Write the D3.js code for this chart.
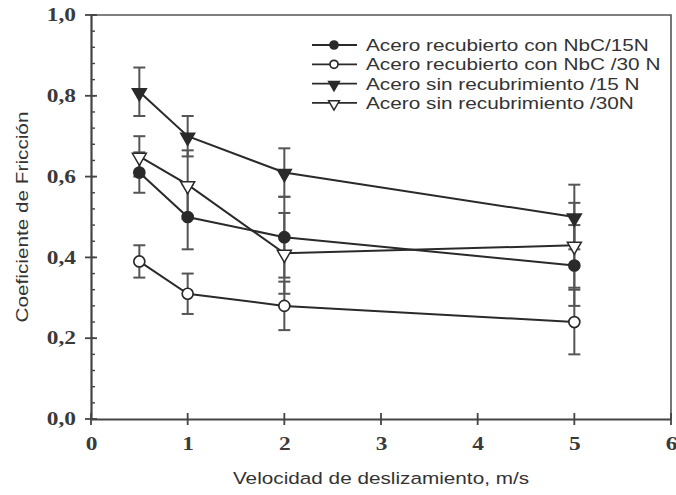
<!DOCTYPE html>
<html>
<head>
<meta charset="utf-8">
<script src="https://cdn.jsdelivr.net/npm/d3@7"></script>
<style>
  html, body { margin: 0; padding: 0; background: #fff; }
  svg { display: block; }
</style>
</head>
<body>
<svg id="chart" width="676" height="495"></svg>
<script>
// Sliding speed (m/s) where each test was run
const velocities = [0.5, 1, 2, 5];

// Mean friction coefficient per series
const nbc15 = [0.61, 0.50, 0.45, 0.38];
const nbc30 = [0.39, 0.31, 0.28, 0.24];
const bare15 = [0.81, 0.70, 0.61, 0.50];
const bare30 = [0.65, 0.58, 0.41, 0.43];

// Half-width of each error bar
const nbc15Err = [0.05, 0.08, 0.10, 0.10];
const nbc30Err = [0.04, 0.05, 0.06, 0.08];
const bare15Err = [0.06, 0.05, 0.06, 0.08];
const bare30Err = [0.05, 0.085, 0.10, 0.105];

const seriesNames = [
  "Acero recubierto con NbC/15N",
  "Acero recubierto con NbC /30 N",
  "Acero sin recubrimiento /15 N",
  "Acero sin recubrimiento /30N"
];

const xTicks = [0, 1, 2, 3, 4, 5, 6];
const yTicks = [0, 0.2, 0.4, 0.6, 0.8, 1.0];
const yMinorTicks = d3.range(0, 1.0001, 0.04);

const xTitle = "Velocidad de deslizamiento, m/s";
const yTitle = "Coeficiente de Fricción";

const series = [
  { name: seriesNames[0], values: nbc15, err: nbc15Err, shape: "circle", filled: true },
  { name: seriesNames[1], values: nbc30, err: nbc30Err, shape: "circle", filled: false },
  { name: seriesNames[2], values: bare15, err: bare15Err, shape: "triangle", filled: true },
  { name: seriesNames[3], values: bare30, err: bare30Err, shape: "triangle", filled: false }
];

const svg = d3.select("#chart");
const plotL = 91, plotR = 671, plotT = 15, plotB = 419;

const x = d3.scaleLinear().domain([0, 6]).range([plotL, plotR]);
const y = d3.scaleLinear().domain([0, 1.0]).range([plotB, plotT]);

const axisColor = "#444";
const ink = "#2a2a2a";
const serif = "'Liberation Serif', 'Times New Roman', serif";
const sans = "'Liberation Sans', Arial, sans-serif";
const tickStretch = 1.3;    // tick numerals are set wide
const titleStretch = 1.22;  // axis titles are set wide
const legendStretch = 1.26; // legend entries are set wide

// Frame (top and right)
svg.append("path")
  .attr("d", `M${plotL},${plotT}H${plotR}V${plotB}`)
  .attr("fill", "none").attr("stroke", "#555").attr("stroke-width", 1.6);

// Y axis with minor ticks on the inside
const yAxis = svg.append("g").attr("transform", `translate(${plotL},0)`);
yAxis.call(d3.axisLeft(y).tickValues(yTicks).tickSize(0)
  .tickFormat(d => d3.format(".1f")(d).replace(".", ",")));
yAxis.select(".domain").attr("stroke", axisColor).attr("stroke-width", 2.2);
yAxis.selectAll("text")
  .attr("x", 0)
  .attr("transform", `translate(-15,0) scale(${tickStretch},1)`)
  .attr("font-family", serif).attr("font-weight", "bold")
  .attr("font-size", 18).attr("fill", "#3a3a3a");
yAxis.selectAll(".major").data(yTicks).enter().append("line")
  .attr("x1", -6).attr("x2", 6)
  .attr("y1", d => y(d)).attr("y2", d => y(d))
  .attr("stroke", axisColor).attr("stroke-width", 1.8);
yAxis.selectAll(".minor").data(yMinorTicks).enter().append("line")
  .attr("x1", 0).attr("x2", 4)
  .attr("y1", d => y(d)).attr("y2", d => y(d))
  .attr("stroke", axisColor).attr("stroke-width", 1.4);

// X axis
const xAxis = svg.append("g").attr("transform", `translate(0,${plotB})`);
xAxis.call(d3.axisBottom(x).tickValues(xTicks).tickSize(0).tickPadding(18)
  .tickFormat(d3.format("d")));
xAxis.select(".domain").attr("stroke", axisColor).attr("stroke-width", 2.2);
xAxis.selectAll("text")
  .attr("transform", `scale(${tickStretch},1)`)
  .attr("font-family", serif).attr("font-weight", "bold")
  .attr("font-size", 18).attr("fill", "#3a3a3a");
xAxis.selectAll(".major").data(xTicks).enter().append("line")
  .attr("x1", d => x(d)).attr("x2", d => x(d))
  .attr("y1", -6).attr("y2", 6)
  .attr("stroke", axisColor).attr("stroke-width", 1.8);

// Axis titles
svg.append("text")
  .attr("transform", `translate(${(plotL + plotR) / 2},484) scale(${titleStretch},1)`)
  .attr("text-anchor", "middle")
  .attr("font-family", sans).attr("font-size", 17).attr("fill", "#333")
  .text(xTitle);
svg.append("text")
  .attr("transform", `translate(28,${(plotT + plotB) / 2}) rotate(-90) scale(${titleStretch},1)`)
  .attr("text-anchor", "middle")
  .attr("font-family", sans).attr("font-size", 17).attr("fill", "#333")
  .text(yTitle);

const triangle = d3.symbol().type(d3.symbolTriangle).size(85);
const smallTriangle = d3.symbol().type(d3.symbolTriangle).size(50);

function drawMarker(g, s, cx, cy, small) {
  const fill = s.filled ? ink : "#fff";
  if (s.shape === "circle") {
    g.append("circle").attr("cx", cx).attr("cy", cy).attr("r", small ? 4 : 5.5)
      .attr("fill", fill).attr("stroke", ink).attr("stroke-width", 1.7);
  } else {
    g.append("path").attr("d", (small ? smallTriangle : triangle)())
      .attr("transform", `translate(${cx},${cy + 1}) rotate(180)`)
      .attr("fill", fill).attr("stroke", ink).attr("stroke-width", 1.5);
  }
}

const plot = svg.append("g");

// Error bars
series.forEach(s => {
  const eb = plot.append("g").attr("stroke", "#555").attr("stroke-width", 2);
  velocities.forEach((v, i) => {
    const cx = x(v);
    const hi = y(s.values[i] + s.err[i]);
    const lo = y(s.values[i] - s.err[i]);
    eb.append("line").attr("x1", cx).attr("x2", cx).attr("y1", hi).attr("y2", lo);
    eb.append("line").attr("x1", cx - 6).attr("x2", cx + 6).attr("y1", hi).attr("y2", hi);
    eb.append("line").attr("x1", cx - 6).attr("x2", cx + 6).attr("y1", lo).attr("y2", lo);
  });
});

// Lines
const line = d3.line().x((d, i) => x(velocities[i])).y(d => y(d));
series.forEach(s => {
  plot.append("path").attr("d", line(s.values))
    .attr("fill", "none").attr("stroke", ink).attr("stroke-width", 2);
});

// Markers
series.forEach(s => {
  velocities.forEach((v, i) => drawMarker(plot, s, x(v), y(s.values[i]), false));
});

// Legend
const legend = svg.append("g");
series.forEach((s, i) => {
  const ly = 45 + i * 19.3;
  legend.append("line").attr("x1", 312).attr("x2", 357)
    .attr("y1", ly).attr("y2", ly)
    .attr("stroke", ink).attr("stroke-width", 1.8);
  drawMarker(legend, s, 334, ly, true);
  legend.append("text")
    .attr("transform", `translate(366,${ly + 6}) scale(${legendStretch},1)`)
    .attr("font-family", sans).attr("font-size", 16.5).attr("fill", "#333")
    .text(s.name);
});
</script>
</body>
</html>
